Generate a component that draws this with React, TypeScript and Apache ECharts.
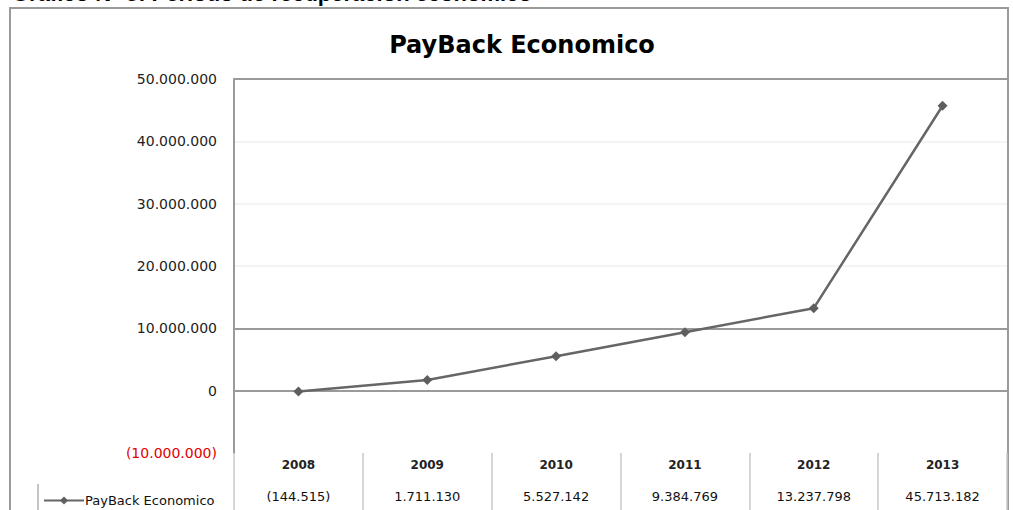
import React, { useEffect, useRef } from "react";
import * as echarts from "echarts";

const years = ["2008", "2009", "2010", "2011", "2012", "2013"];
const payback = [-144515, 1711130, 5527142, 9384769, 13237798, 45713182];
const seriesName = "PayBack Economico";
const chartTitle = "PayBack Economico";
const pageHeading = "Gráfico N° 5: Periodo de recuperación económico";
const yMin = -10000000;
const yMax = 50000000;
const yStep = 10000000;

const fmtNum = (n: number) => {
  const s = Math.round(Math.abs(n)).toString().replace(/\B(?=(\d{3})+(?!\d))/g, ".");
  return n < 0 ? `(${s})` : s;
};

export default function App() {
  const ref = useRef<HTMLDivElement>(null);
  useEffect(() => {
    if (!ref.current) return;
    const chart = echarts.init(ref.current, null, { renderer: "svg" });
    const font = "DejaVu Sans";
    chart.setOption({
      animation: false,
      backgroundColor: "#ffffff",
      textStyle: { fontFamily: font },
      title: {
        text: chartTitle,
        left: 517,
        textAlign: "center",
        top: 28,
        textStyle: { fontFamily: font, fontWeight: "bold", fontSize: 24, color: "#000" },
      },
      graphic: [
        {
          type: "text",
          left: 12,
          top: -18,
          style: { text: pageHeading, fontFamily: "Liberation Sans", fontWeight: "bold", fontSize: 22, fill: "#000" },
        },
        {
          type: "rect",
          shape: { x: 10, y: 8, width: 998, height: 520 },
          style: { fill: "none", stroke: "#9a9a9a", lineWidth: 2 },
        },
        {
          type: "line",
          shape: { x1: 38, y1: 484, x2: 38, y2: 510 },
          style: { stroke: "#b0b0b0", lineWidth: 1.5 },
        },
      ],
      legend: {
        left: 38,
        top: 489,
        itemWidth: 40,
        itemHeight: 10,
        textStyle: { fontFamily: font, fontSize: 13, color: "#111", padding: [0, 0, 0, -4] },
        data: [seriesName],
      },
      grid: { left: 234, right: 6, top: 79, bottom: 57, containLabel: false },
      xAxis: [
        {
          type: "category",
          data: years,
          boundaryGap: true,
          position: "bottom",
          axisLine: { show: false, onZero: false },
          axisTick: { show: true, length: 30, inside: false, lineStyle: { color: "#c8c8c8", width: 1.5 } },
          axisLabel: { margin: 6, fontFamily: font, fontSize: 12, fontWeight: "bold", color: "#222" },
          splitLine: { show: false },
        },
        {
          type: "category",
          data: payback.map(fmtNum),
          boundaryGap: true,
          position: "bottom",
          offset: 30,
          axisLine: { show: false, onZero: false },
          axisTick: { show: true, length: 30, lineStyle: { color: "#c8c8c8", width: 1.5 } },
          axisLabel: { margin: 7, fontFamily: font, fontSize: 13, color: "#111" },
          splitLine: { show: false },
        },
      ],
      yAxis: {
        type: "value",
        min: yMin,
        max: yMax,
        interval: yStep,
        axisLine: { show: true, lineStyle: { color: "#9a9a9a", width: 2 } },
        axisTick: { show: false },
        axisLabel: {
          margin: 17,
          fontFamily: font,
          fontSize: 14,
          color: (v: number) => (v < 0 ? "#e00000" : "#222"),
          formatter: (v: number) => fmtNum(v),
        },
        splitLine: {
          show: true,
          lineStyle: {
            color: ["rgba(0,0,0,0)", "#9a9a9a", "#9a9a9a", "#f4f4f4", "#f4f4f4", "#f4f4f4", "#9a9a9a"],
            width: 2,
          },
        },
      },
      series: [
        {
          name: seriesName,
          type: "line",
          xAxisIndex: 0,
          data: payback,
          symbol: "diamond",
          symbolSize: 10,
          lineStyle: { color: "#666666", width: 2.5 },
          itemStyle: { color: "#5f5f5f" },
        },
      ],
    });
    return () => chart.dispose();
  }, []);
  return (
    <div
      ref={ref}
      style={{ position: "absolute", left: 0, top: 0, width: 1013, height: 510 }}
    />
  );
}
